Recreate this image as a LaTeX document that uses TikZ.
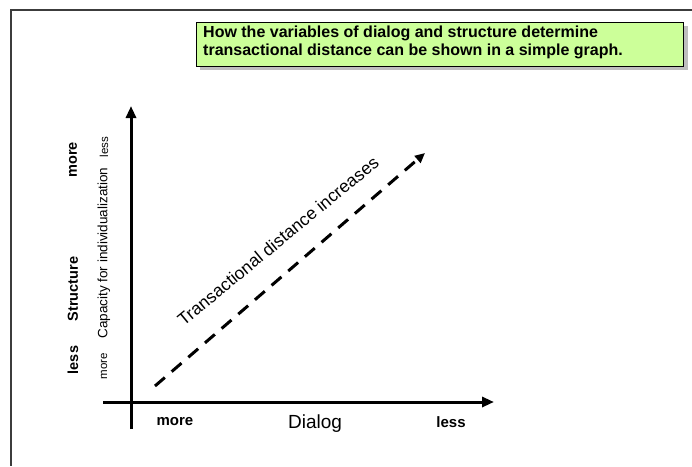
\documentclass[tikz,border=0pt]{standalone}
\usepackage{fontspec}
\setmainfont{Liberation Sans}
\usepackage{xcolor}
\usetikzlibrary{arrows.meta, positioning, calc}
\definecolor{notegreen}{RGB}{204,255,153}
\definecolor{shadowgray}{RGB}{190,190,190}
\definecolor{framegray}{RGB}{60,60,60}
\tikzset{
	axis/.style={draw, line width=3pt, -{Triangle[length=12pt, width=10pt]}},
	trend/.style={draw, line width=3pt, dash pattern=on 13pt off 9pt, -{Triangle[length=10pt, width=9pt]}},
	biglabel/.style={font=\fontsize{14.5}{16}\selectfont\bfseries, rotate=90, inner sep=0pt},
	smalllabel/.style={font=\fontsize{11.5}{13}\selectfont, rotate=90, inner sep=0pt},
	ticklabel/.style={font=\fontsize{15}{17}\selectfont\bfseries, inner sep=0pt}
}

\begin{document}
\begin{tikzpicture}[x=1pt, y=-1pt, >=Stealth]
	\useasboundingbox (0,0) rectangle (692,466);
	% Frame lines (top and left)
	\draw[framegray, line width=1.5pt] (692,10) -- (11,10) -- (11,466);
	
	% Note box with shadow
	\fill[shadowgray] (200,26) rectangle (688,70);
	\node[draw, fill=notegreen, line width=0.8pt, anchor=north west, minimum width=487pt, minimum height=44pt, inner sep=0pt] (note) at (196,22) {};
	\node[anchor=north west, align=left, font=\fontsize{16}{18}\selectfont\bfseries, inner sep=0pt] (notetext) at (203,26)
		{How the variables of dialog and structure determine\\transactional distance can be shown in a simple graph.};
	
	% Axes
	\coordinate (origin) at (131,402);
	\coordinate (xstart) at (103,402);
	\coordinate (xend) at (494,402);
	\coordinate (ystart) at (131,429);
	\coordinate (yend) at (131,106);
	\path[axis] (xstart) -- (xend);
	\path[axis] (ystart) -- (yend);
	
	% Dialog labels
	\node[ticklabel] (dmore) at (175,422) {more};
	\node[font=\fontsize{19}{21}\selectfont, inner sep=0pt] (dialog) at (315,424) {Dialog};
	\node[ticklabel] (dless) at (451,422) {less};
	
	% Structure labels
	\node[biglabel] (smore) at (73,160) {more};
	\node[biglabel] (structure) at (73,289) {Structure};
	\node[biglabel] (sless) at (73,360) {less};
	
	% Capacity labels
	\node[smalllabel] (cless) at (104,147) {less};
	\node[smalllabel, font=\fontsize{13.5}{15}\selectfont] (capacity) at (104,253) {Capacity for individualization};
	\node[smalllabel] (cmore) at (104,366) {more};
	
	% Transactional distance
	\coordinate (tdstart) at (155,386);
	\coordinate (tdend) at (425,153);
	\path[trend] (tdstart) -- (tdend);
	\node[font=\fontsize{17.5}{19}\selectfont, rotate=39.5, inner sep=0pt] (tdlabel) at (278,241) {Transactional distance increases};
\end{tikzpicture}
\end{document}
